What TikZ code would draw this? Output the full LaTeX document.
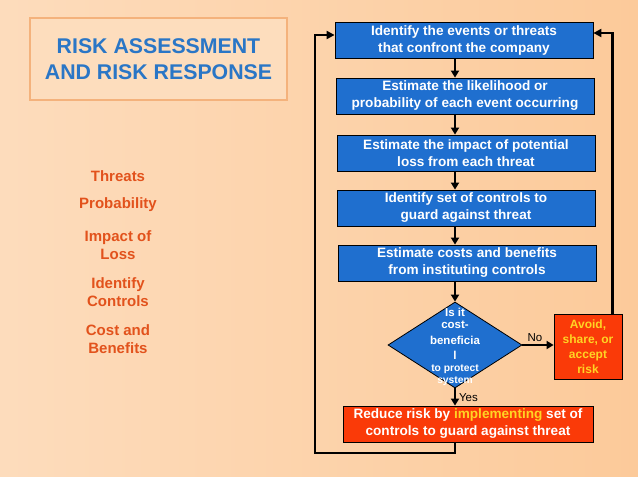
\documentclass[tikz,border=0pt]{standalone}
\usepackage{fontspec}
\setmainfont{Liberation Sans}
\usetikzlibrary{shapes.geometric,arrows.meta,calc}
\definecolor{bgL}{HTML}{FDDCBC}
\definecolor{bgR}{HTML}{FCCA9A}
\definecolor{boxblue}{HTML}{1F6FCF}
\definecolor{titleblue}{HTML}{2A76C6}
\definecolor{listred}{HTML}{E2521C}
\definecolor{redbox}{HTML}{FA3A08}
\definecolor{yel}{HTML}{FFD424}
\definecolor{titlefill}{HTML}{FDDDBD}
\definecolor{titleedge}{HTML}{F4B27C}
\tikzset{
  x=1pt,y=-1pt,
  bluebox/.style={draw=black,line width=0.8pt,fill=boxblue,text=white,font=\bfseries\fontsize{13.6}{17}\selectfont,align=center,minimum width=258pt,minimum height=36pt,inner sep=0pt},
  redrect/.style={draw=black,line width=0.8pt,fill=redbox,align=center,inner sep=0pt},
  arr/.style={line width=2pt,draw=black,-{Triangle[length=7pt,width=8pt]}},
  loopline/.style={line width=2.2pt,draw=black,-{Triangle[length=8pt,width=8pt]}},
  listtxt/.style={text=listred,font=\bfseries\fontsize{15}{18.5}\selectfont,align=center,inner sep=0pt},
  dtxt/.style={text=white,inner sep=0pt,font=\bfseries\fontsize{11.5}{13}\selectfont},
  dtxts/.style={text=white,inner sep=0pt,font=\bfseries\fontsize{10.3}{12}\selectfont},
}
\begin{document}
\begin{tikzpicture}
\useasboundingbox (0,0) rectangle (638,479);
\shade[left color=bgL,right color=bgR] (0,0) rectangle (638,477);
\fill[white] (0,477) rectangle (638,479);
% title
\node[draw=titleedge,line width=2pt,fill=titlefill,minimum width=257pt,minimum height=82pt,inner sep=0pt,
  text=titleblue,font=\bfseries\fontsize{21.3}{26}\selectfont,align=center] (title) at (158.5,59)
  {RISK ASSESSMENT\\AND RISK RESPONSE};
% left list
\node[listtxt] (l1) at (118,176) {Threats};
\node[listtxt] (l2) at (118,205) {Probability};
\node[listtxt] (l3) at (118,245) {Impact of\\Loss};
\node[listtxt] (l4) at (118,292) {Identify\\Controls};
\node[listtxt] (l5) at (118,339) {Cost and\\Benefits};
% boxes
\node[bluebox] (b1) at (464,40) {Identify the events or threats\\that confront the company};
\node[bluebox] (b2) at (465,96) {Estimate the likelihood or\\probability of each event occurring};
\node[bluebox] (b3) at (466,153) {Estimate the impact of potential\\loss from each threat};
\node[bluebox] (b4) at (466,208) {Identify set of controls to\\guard against threat};
\node[bluebox] (b5) at (467,263) {Estimate costs and benefits\\from instituting controls};
% diamond
\node[diamond,draw=black,line width=0.8pt,fill=boxblue,minimum width=134pt,minimum height=86pt,inner sep=0pt] (d) at (455,345) {};
\node[dtxt] (dt1) at (455,312) {Is it};
\node[dtxt] (dt2) at (455,325) {cost-};
\node[dtxt] (dt3) at (455,340) {beneficia};
\node[dtxt] (dt4) at (455,355) {l};
\node[dtxts] (dt5) at (455,369) {to protect};
\node[dtxts] (dt6) at (455,381.5) {system};
% avoid
\node[redrect,minimum width=68pt,minimum height=65pt,text=yel,font=\bfseries\fontsize{12}{15}\selectfont] (av) at (588,346.5)
  {Avoid,\\share, or\\accept\\risk};
% reduce
\node[redrect,minimum width=250pt,minimum height=36pt,text=white,font=\bfseries\fontsize{13.6}{17}\selectfont] (rb) at (468,424)
  {Reduce risk by \textcolor{yel}{implementing} set of\\controls to guard against threat};
% arrows
\draw[arr] (b1.south -| d.north) -- (b2.north -| d.north);
\draw[arr] (b2.south -| d.north) -- (b3.north -| d.north);
\draw[arr] (b3.south -| d.north) -- (b4.north -| d.north);
\draw[arr] (b4.south -| d.north) -- (b5.north -| d.north);
\draw[arr] (b5.south -| d.north) -- (d.north);
\draw[arr] (d.east) -- node[above,font=\fontsize{11.5}{13}\selectfont,inner sep=2pt,xshift=-3pt] (nolbl) {No} (av.west |- d.east);
\draw[arr] (d.south) -- node[right,font=\fontsize{11.5}{13}\selectfont,inner sep=3pt,yshift=-1pt] (yeslbl) {Yes} (rb.north -| d.south);
% loops
\coordinate (lb) at (315,453);
\coordinate (rs) at ($(av.north east)+(-10,0)$);
\draw[loopline] (rb.south -| d.south) |- (lb) |- ($(b1.west)+(0,-5)$);
\draw[loopline] (rs) |- ($(b1.east)+(0,-7)$);
\end{tikzpicture}
\end{document}
